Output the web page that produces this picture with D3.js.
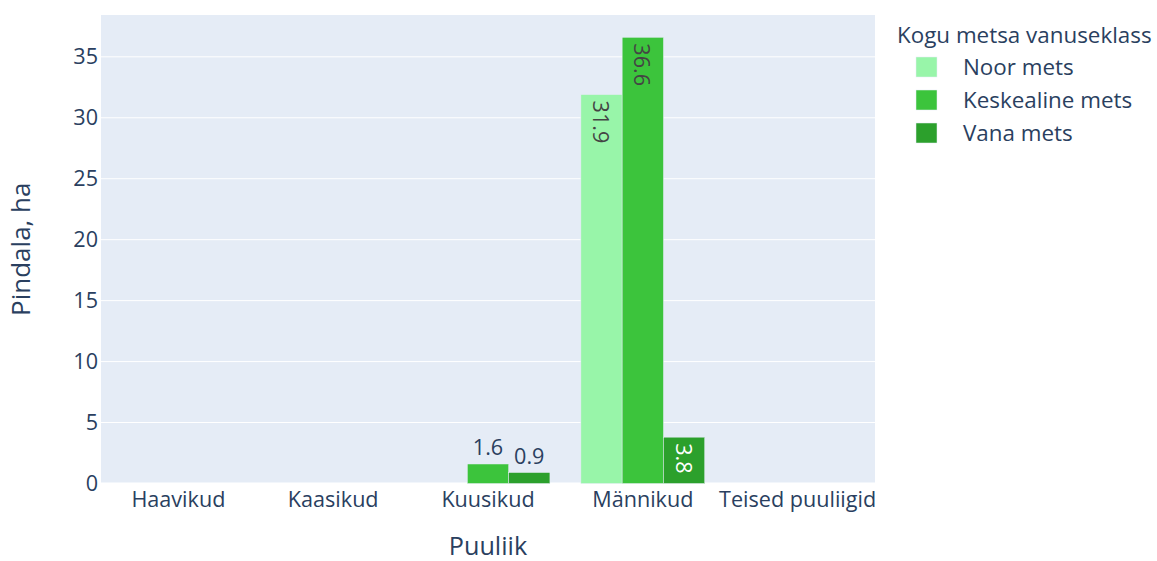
<!DOCTYPE html>
<html>
<head>
<meta charset="utf-8">
<script src="https://cdn.jsdelivr.net/npm/d3@7"></script>
<style>
  body { margin: 0; background: #fff; overflow: hidden; }
  text { font-family: "Open Sans", sans-serif; }
</style>
</head>
<body>
<div id="chart"></div>
<script>
// data
var categories = ["Haavikud", "Kaasikud", "Kuusikud", "Männikud", "Teised puuliigid"];
var seriesNames = ["Noor mets", "Keskealine mets", "Vana mets"];
var noorMets = [null, null, null, 31.9, null];
var keskealineMets = [null, null, 1.6, 36.6, null];
var vanaMets = [null, null, 0.9, 3.8, null];
var yTicks = [0, 5, 10, 15, 20, 25, 30, 35];

var seriesValues = [noorMets, keskealineMets, vanaMets];
var colors = ["#98F5A9", "#3CC43C", "#2CA02C"];

var W = 1157, H = 561;
var margin = {top: 15, right: 282, bottom: 77.5, left: 101};
var width = W - margin.left - margin.right;
var height = H - margin.top - margin.bottom;
var fontColor = "#2a3f5f";

var svg = d3.select("#chart")
    .append("svg")
    .attr("width", W)
    .attr("height", H);

var g = svg.append("g")
    .attr("transform", "translate(" + margin.left + "," + margin.top + ")");

// flatten to rows
var rows = [];
seriesValues.forEach(function(vals, s) {
    vals.forEach(function(v, i) {
        if (v != null) rows.push({cat: categories[i], series: seriesNames[s], value: v});
    });
});

var xScale = d3.scaleBand()
    .domain(categories)
    .range([0, width])
    .paddingInner(0.2)
    .paddingOuter(0.1);

var xInner = d3.scaleBand()
    .domain(seriesNames)
    .range([0, xScale.bandwidth()]);

var maxVal = d3.max(rows, function(d) { return d.value; });
var yScale = d3.scaleLinear()
    .domain([0, maxVal * 1.05])
    .range([height, 0]);

var color = d3.scaleOrdinal(seriesNames, colors);

// plot background
g.append("rect")
    .attr("width", width)
    .attr("height", height)
    .attr("fill", "#E5ECF6");

// gridlines
g.selectAll(".grid")
    .data(yTicks.filter(function(t) { return t > 0; }))
    .enter()
    .append("line")
    .attr("x1", 0)
    .attr("x2", width)
    .attr("y1", function(d) { return yScale(d); })
    .attr("y2", function(d) { return yScale(d); })
    .attr("stroke", "#fff")
    .attr("stroke-width", 1);

// y axis
var yAxis = g.append("g")
    .call(d3.axisLeft(yScale).tickValues(yTicks).tickSize(0).tickPadding(3));
yAxis.select(".domain").remove();
yAxis.selectAll("text")
    .attr("fill", fontColor)
    .style("font-family", "Open Sans")
    .style("font-size", "21.6px");

// x axis
var xAxis = g.append("g")
    .attr("transform", "translate(0," + height + ")")
    .call(d3.axisBottom(xScale).tickSize(0).tickPadding(8));
xAxis.select(".domain").remove();
xAxis.selectAll("text")
    .attr("fill", fontColor)
    .style("font-family", "Open Sans")
    .style("font-size", "21.6px");

// zero line
g.append("line")
    .attr("x1", 0)
    .attr("x2", width)
    .attr("y1", yScale(0))
    .attr("y2", yScale(0))
    .attr("stroke", "#fff")
    .attr("stroke-width", 2);

// bars
var bars = g.selectAll(".bar")
    .data(rows)
    .enter()
    .append("rect")
    .attr("x", function(d) { return xScale(d.cat) + xInner(d.series); })
    .attr("y", function(d) { return yScale(d.value); })
    .attr("width", xInner.bandwidth())
    .attr("height", function(d) { return yScale(0) - yScale(d.value); })
    .attr("fill", function(d) { return color(d.series); })
    .attr("stroke", "#E5ECF6")
    .attr("stroke-width", 0.5);

// bar labels: rotated inside when tall enough, else above
var labelSize = 21.6;
rows.forEach(function(d) {
    var cx = xScale(d.cat) + xInner(d.series) + xInner.bandwidth() / 2;
    var top = yScale(d.value);
    var barH = yScale(0) - top;
    var label = d.value.toFixed(1);
    var t = g.append("text")
        .text(label)
        .style("font-size", labelSize + "px");
    var len = t.node().getComputedTextLength();
    if (barH >= len + 12) {
        var dark = d3.lab(color(d.series)).l < 62;
        t.attr("text-anchor", "start")
            .attr("dominant-baseline", "central")
            .attr("transform", "translate(" + cx + "," + (top + 6) + ") rotate(90)")
            .attr("fill", dark ? "#fff" : "#444");
    } else {
        t.attr("text-anchor", "middle")
            .attr("x", cx)
            .attr("y", top - 9)
            .attr("fill", fontColor);
    }
});

// axis titles
g.append("text")
    .attr("x", width / 2)
    .attr("y", height + 71.5)
    .attr("text-anchor", "middle")
    .attr("fill", fontColor)
    .style("font-size", "25.2px")
    .text("Puuliik");

g.append("text")
    .attr("transform", "translate(" + (30 - margin.left) + "," + (height / 2) + ") rotate(-90)")
    .attr("text-anchor", "middle")
    .attr("fill", fontColor)
    .style("font-size", "26px")
    .text("Pindala, ha");

// legend
var legend = svg.append("g")
    .attr("transform", "translate(897,0)");

legend.append("text")
    .attr("x", 0)
    .attr("y", 43)
    .attr("fill", fontColor)
    .style("font-size", "22.4px")
    .text("Kogu metsa vanuseklass");

var items = legend.selectAll(".item")
    .data(seriesNames)
    .enter()
    .append("g")
    .attr("transform", function(d, i) { return "translate(0," + (67 + i * 33) + ")"; });

items.append("rect")
    .attr("x", 19)
    .attr("y", -10)
    .attr("width", 21)
    .attr("height", 20)
    .attr("fill", function(d) { return color(d); })
    .attr("stroke", "#E5ECF6")
    .attr("stroke-width", 0.5);

items.append("text")
    .attr("x", 66)
    .attr("y", 8)
    .attr("fill", fontColor)
    .style("font-size", "22.4px")
    .text(function(d) { return d; });
</script>
</body>
</html>
